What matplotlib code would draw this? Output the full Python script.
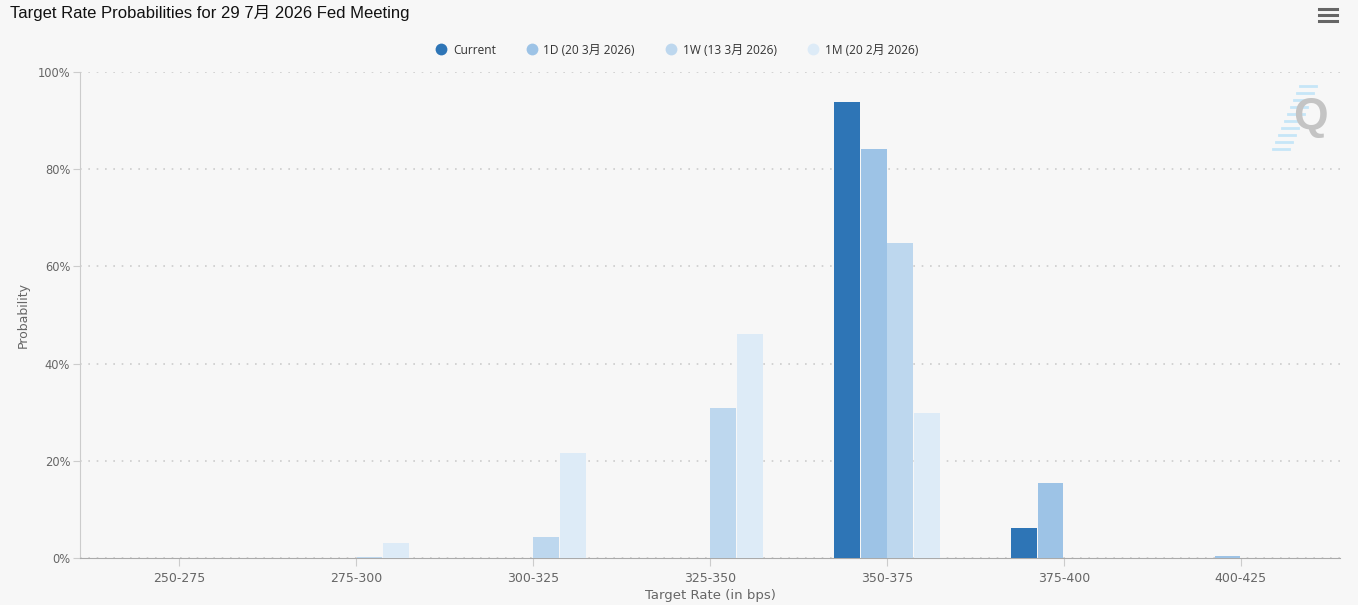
"""Target rate probabilities – grouped bars (CME FedWatch style)."""

import matplotlib
matplotlib.use("Agg")
import matplotlib.pyplot as plt
from matplotlib.lines import Line2D
from matplotlib.ticker import FuncFormatter, MultipleLocator
import numpy as np

CJK = ["Liberation Sans", "Noto Sans CJK SC", "DejaVu Sans"]
LEG = ["Open Sans", "Noto Sans CJK SC", "DejaVu Sans"]

TITLE = "Target Rate Probabilities for 29 7月 2026 Fed Meeting"
categories = ["250-275", "275-300", "300-325", "325-350", "350-375", "375-400", "400-425"]
series_names = ["Current", "1D (20 3月 2026)", "1W (13 3月 2026)", "1M (20 2月 2026)"]
current = [0.0, 0.0, 0.0, 0.0, 93.8, 6.2, 0.0]
one_day = [0.0, 0.0, 0.0, 0.0, 84.2, 15.4, 0.4]
one_week = [0.0, 0.2, 4.3, 30.9, 64.8, 0.0, 0.0]
one_month = [0.0, 3.1, 21.6, 46.1, 29.8, 0.0, 0.0]
colors = ["#2e75b6", "#9dc3e6", "#bdd7ee", "#ddebf7"]

BG = "#f7f7f7"
TXT = "#666666"

fig = plt.figure(figsize=(13.58, 6.05), dpi=100, facecolor=BG)
ax = fig.add_axes([80 / 1358, 47 / 605, 1260 / 1358, 486 / 605], facecolor=BG)

x = np.arange(len(categories))
step = 0.15
width = 0.145
all_series = [current, one_day, one_week, one_month]
for i, (vals, name, col) in enumerate(zip(all_series, series_names, colors)):
    ax.bar(x + (i - 1.5) * step, vals, width=width, color=col, label=name,
           zorder=3, linewidth=0)

ax.set_xlim(-0.56, len(categories) - 1 + 0.56)
ax.set_ylim(0, 100)
ax.yaxis.set_major_locator(MultipleLocator(20))
ax.yaxis.set_major_formatter(FuncFormatter(lambda v, _: f"{v:.0f}%"))
ax.grid(axis="y", color="#cccccc", linestyle=(0, (1, 4)), linewidth=1.2, zorder=0)
ax.set_xticks(x)
ax.set_xticklabels(categories)

for s in ["top", "right"]:
    ax.spines[s].set_visible(False)
ax.spines["left"].set_color("#cccccc")
ax.spines["bottom"].set_color("#aaaaaa")
ax.tick_params(axis="y", colors="#cccccc", labelcolor=TXT, labelsize=8.3, length=5, pad=2)
ax.tick_params(axis="x", colors="#cccccc", labelcolor=TXT, labelsize=9, length=6, pad=4)

ax.set_ylabel("Probability", color=TXT, fontsize=9, labelpad=6)
ax.set_xlabel("Target Rate (in bps)", color=TXT, fontsize=9.5, labelpad=3)

fig.text(10 / 1358, 1 - 13 / 605, TITLE, family=CJK, fontsize=12,
         color="#111111", va="center", ha="left")

# legend with round markers
handles = [Line2D([], [], marker="o", linestyle="", markersize=8.5,
                  markerfacecolor=c, markeredgewidth=0) for c in colors]
fig.legend(handles, series_names, loc="center", bbox_to_anchor=(677 / 1358, 1 - 50 / 605),
           ncol=4, frameon=False, handlelength=0.8, handletextpad=0.6,
           columnspacing=2.6, prop={"family": LEG, "size": 8.6}, labelcolor="#333333")

# menu icon
for yy in (9, 15, 21):
    fig.add_artist(Line2D([1319 / 1358, 1337 / 1358], [1 - yy / 605] * 2,
                          color="#666666", linewidth=2.2, transform=fig.transFigure))

# watermark
for k in range(10):
    y0 = 1 - (86 + k * 7) / 605
    xl = (1300 - k * 3) / 1358
    fig.add_artist(Line2D([xl, xl + 16 / 1358], [y0, y0], color="#c6e6f7",
                          linewidth=2, transform=fig.transFigure, zorder=1))
fig.text(1310 / 1358, 1 - 118 / 605, "Q", fontsize=32, fontweight="bold",
         color="#c4c4c4", ha="center", va="center", family="Liberation Sans")

fig.savefig("out.png", dpi=100, facecolor=BG)
